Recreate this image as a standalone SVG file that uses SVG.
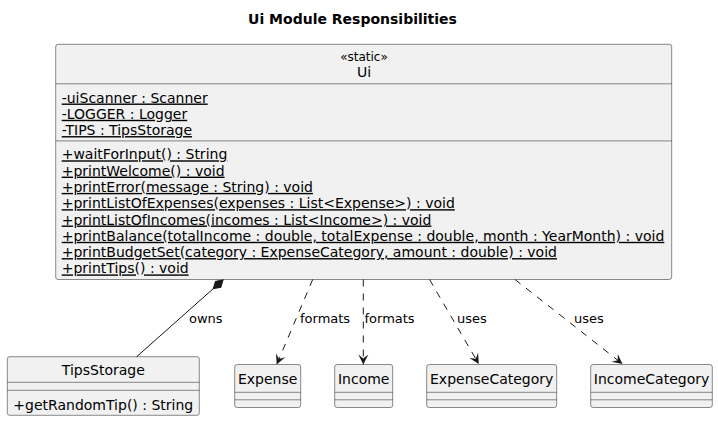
<svg xmlns="http://www.w3.org/2000/svg" width="718" height="421" viewBox="0 0 718 421">
<style>
text{font-family:"DejaVu Sans","Liberation Sans",sans-serif;fill:#000}
.box{fill:#F1F1F1;stroke:#181818;stroke-width:0.5}
.sep{stroke:#181818;stroke-width:0.5}
.m{font-size:14px;text-decoration:underline}
.n{font-size:14px}
.lbl{font-size:13px}
.edge{fill:none;stroke:#181818;stroke-width:1}
.dash{stroke-dasharray:7,7}
</style>
<defs>
<marker id="arr" markerUnits="userSpaceOnUse" markerWidth="11" markerHeight="11" refX="10" refY="5" orient="auto" overflow="visible">
<path d="M0,0 L10,5 L0,10 L4,5 Z" fill="#181818"/>
</marker>
<marker id="dia" markerUnits="userSpaceOnUse" markerWidth="14" markerHeight="9" refX="0" refY="4" orient="auto" overflow="visible">
<path d="M0,4 L6.5,0 L13,4 L6.5,8 Z" fill="#181818" stroke="#181818" stroke-width="1"/>
</marker>
</defs>
<rect width="718" height="421" fill="#FFFFFF"/>
<text x="352.5" y="23.5" text-anchor="middle" style="font-size:14px;font-weight:bold">Ui Module Responsibilities</text>

<g id="Ui">
<rect class="box" x="55.7" y="44.3" width="616" height="235.2" rx="2.5"/>
<text x="364" y="61" text-anchor="middle" style="font-size:12px">«static»</text>
<text x="364" y="76.5" text-anchor="middle" class="n">Ui</text>
<line class="sep" x1="55.7" y1="83.8" x2="671.7" y2="83.8"/>
<text class="m" x="61.7" y="102.5">-uiScanner : Scanner</text>
<text class="m" x="61.7" y="118.8">-LOGGER : Logger</text>
<text class="m" x="61.7" y="135.1">-TIPS : TipsStorage</text>
<line class="sep" x1="55.7" y1="140.9" x2="671.7" y2="140.9"/>
<text class="m" x="61.7" y="159.3">+waitForInput() : String</text>
<text class="m" x="61.7" y="175.6">+printWelcome() : void</text>
<text class="m" x="61.7" y="191.9">+printError(message : String) : void</text>
<text class="m" x="61.7" y="208.2">+printListOfExpenses(expenses : List&lt;Expense&gt;) : void</text>
<text class="m" x="61.7" y="224.5">+printListOfIncomes(incomes : List&lt;Income&gt;) : void</text>
<text class="m" x="61.7" y="240.8">+printBalance(totalIncome : double, totalExpense : double, month : YearMonth) : void</text>
<text class="m" x="61.7" y="257.1">+printBudgetSet(category : ExpenseCategory, amount : double) : void</text>
<text class="m" x="61.7" y="273.4">+printTips() : void</text>
</g>

<g id="TipsStorage">
<rect class="box" x="7.3" y="356.7" width="192" height="58.6" rx="2.5"/>
<text x="103.3" y="375" text-anchor="middle" class="n">TipsStorage</text>
<line class="sep" x1="7.3" y1="382.3" x2="199.3" y2="382.3"/>
<line class="sep" x1="7.3" y1="390.3" x2="199.3" y2="390.3"/>
<text x="13.3" y="409.5" class="n">+getRandomTip() : String</text>
</g>

<g id="Expense">
<rect class="box" x="234.7" y="364.5" width="66" height="43" rx="2.5"/>
<text x="267.7" y="383.5" text-anchor="middle" class="n">Expense</text>
<line class="sep" x1="234.7" y1="392.3" x2="300.7" y2="392.3"/>
<line class="sep" x1="234.7" y1="399.8" x2="300.7" y2="399.8"/>
</g>

<g id="Income">
<rect class="box" x="334.7" y="364.5" width="58" height="43" rx="2.5"/>
<text x="363.7" y="383.5" text-anchor="middle" class="n">Income</text>
<line class="sep" x1="334.7" y1="392.3" x2="392.7" y2="392.3"/>
<line class="sep" x1="334.7" y1="399.8" x2="392.7" y2="399.8"/>
</g>

<g id="ExpenseCategory">
<rect class="box" x="426.7" y="364.5" width="130" height="43" rx="2.5"/>
<text x="491.7" y="383.5" text-anchor="middle" class="n">ExpenseCategory</text>
<line class="sep" x1="426.7" y1="392.3" x2="556.7" y2="392.3"/>
<line class="sep" x1="426.7" y1="399.8" x2="556.7" y2="399.8"/>
</g>

<g id="IncomeCategory">
<rect class="box" x="590.7" y="364.5" width="121.6" height="43" rx="2.5"/>
<text x="651.5" y="383.5" text-anchor="middle" class="n">IncomeCategory</text>
<line class="sep" x1="590.7" y1="392.3" x2="712.3" y2="392.3"/>
<line class="sep" x1="590.7" y1="399.8" x2="712.3" y2="399.8"/>
</g>

<g id="connectors">
<path class="edge" d="M223,280 L136.7,356.7" marker-start="url(#dia)"/>
<text class="lbl" x="189" y="322.5">owns</text>
<path class="edge dash" d="M312.7,279.5 L276.7,364.5" marker-end="url(#arr)"/>
<text class="lbl" x="300" y="322.5">formats</text>
<path class="edge dash" d="M363.3,279.5 L363.3,364.5" marker-end="url(#arr)"/>
<text class="lbl" x="364.5" y="322.5">formats</text>
<path class="edge dash" d="M429.5,279.5 L478.8,364" marker-end="url(#arr)"/>
<text class="lbl" x="457" y="322.5">uses</text>
<path class="edge dash" d="M515,279.5 L622.5,364" marker-end="url(#arr)"/>
<text class="lbl" x="574" y="322.5">uses</text>
</g>
</svg>
